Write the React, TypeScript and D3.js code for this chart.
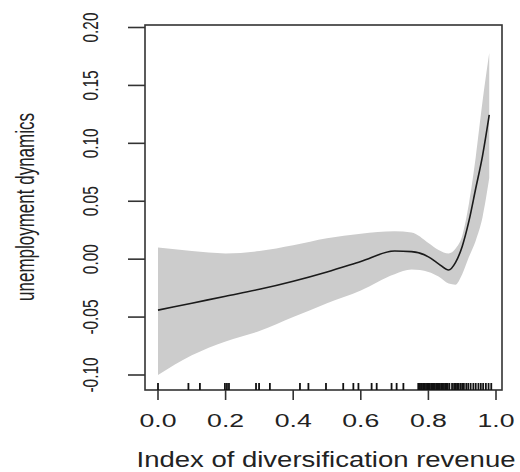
import React, { useRef, useEffect } from 'react';
import * as d3 from 'd3';

// smooth term
const gridX = [0, 0.1, 0.2, 0.3, 0.4, 0.5, 0.6, 0.7, 0.75, 0.8, 0.83, 0.86, 0.88, 0.9, 0.92, 0.94, 0.96, 0.98];
const fitY = [-0.044, -0.038, -0.032, -0.026, -0.019, -0.011, -0.002, 0.007, 0.0065, 0.002, -0.004, -0.0094, -0.003, 0.011, 0.033, 0.061, 0.089, 0.1245];
const upperY = [0.010, 0.007, 0.005, 0.007, 0.012, 0.018, 0.022, 0.024, 0.023, 0.014, 0.008, 0.005, 0.009, 0.020, 0.048, 0.088, 0.136, 0.178];
const lowerY = [-0.100, -0.083, -0.071, -0.062, -0.050, -0.038, -0.027, -0.013, -0.009, -0.011, -0.015, -0.021, -0.022, -0.013, 0.002, 0.016, 0.036, 0.070];

// rug of observed x values
const rugX = [
  0, 0.09, 0.124, 0.198, 0.204, 0.21, 0.29, 0.299, 0.331, 0.42, 0.445, 0.497,
  0.548, 0.578, 0.593, 0.632, 0.647, 0.691, 0.706, 0.726,
  0.770, 0.774, 0.778, 0.781, 0.785, 0.789, 0.793, 0.797, 0.800, 0.804, 0.808,
  0.812, 0.815, 0.819, 0.823, 0.827, 0.830, 0.834, 0.838, 0.842, 0.846, 0.850,
  0.853, 0.857, 0.862, 0.870, 0.876, 0.881, 0.885, 0.890, 0.896, 0.901, 0.905,
  0.912, 0.918, 0.925, 0.933, 0.940, 0.948, 0.955, 0.962, 0.970, 0.978, 0.986
];

const xTicks = [0, 0.2, 0.4, 0.6, 0.8, 1.0];
const xTickLabels = ['0.0', '0.2', '0.4', '0.6', '0.8', '1.0'];
const yTicks = [-0.1, -0.05, 0, 0.05, 0.1, 0.15, 0.2];
const yTickLabels = ['-0.10', '-0.05', '0.00', '0.05', '0.10', '0.15', '0.20'];

const xTitle = 'Index of diversification revenue';
const yTitle = 'unemployment dynamics';

const FONT = '"Liberation Sans", Arial, sans-serif';

export default function App() {
  const svgRef = useRef<SVGSVGElement>(null);

  useEffect(() => {
    const svg = d3.select(svgRef.current);
    svg.selectAll('*').remove();

    const box = { left: 145, right: 502, top: 25, bottom: 390 };

    const x = d3.scaleLinear().domain([0, 1]).range([158, 496]);
    const y = d3.scaleLinear().domain([-0.1, 0.2]).range([375, 27.5]);

    const rows = gridX.map((gx, i) => ({ x: gx, fit: fitY[i], lo: lowerY[i], hi: upperY[i] }));

    // confidence band
    svg.append('path')
      .datum(rows)
      .attr('fill', '#cccccc')
      .attr('d', d3.area<any>()
        .x(d => x(d.x))
        .y0(d => y(d.lo))
        .y1(d => y(d.hi))
        .curve(d3.curveMonotoneX));

    // fitted line
    svg.append('path')
      .datum(rows)
      .attr('fill', 'none')
      .attr('stroke', '#1a1a1a')
      .attr('stroke-width', 1.6)
      .attr('d', d3.line<any>()
        .x(d => x(d.x))
        .y(d => y(d.fit))
        .curve(d3.curveMonotoneX));

    // frame
    svg.append('rect')
      .attr('x', box.left)
      .attr('y', box.top)
      .attr('width', box.right - box.left)
      .attr('height', box.bottom - box.top)
      .attr('fill', 'none')
      .attr('stroke', '#333')
      .attr('stroke-width', 1.6);

    // rug
    svg.append('g')
      .selectAll('line')
      .data(rugX)
      .join('line')
      .attr('x1', d => x(d))
      .attr('x2', d => x(d))
      .attr('y1', 383)
      .attr('y2', box.bottom)
      .attr('stroke', '#111')
      .attr('stroke-width', 1.8);

    // x axis ticks + labels
    const gx = svg.append('g');
    gx.selectAll('line')
      .data(xTicks)
      .join('line')
      .attr('x1', d => x(d))
      .attr('x2', d => x(d))
      .attr('y1', box.bottom)
      .attr('y2', 400)
      .attr('stroke', '#333')
      .attr('stroke-width', 1.6);
    gx.selectAll('text')
      .data(xTicks)
      .join('text')
      .attr('transform', d => `translate(${x(d)},427) scale(1.48,1)`)
      .attr('text-anchor', 'middle')
      .attr('font-family', FONT)
      .attr('font-size', 18)
      .attr('fill', '#222')
      .text((d, i) => xTickLabels[i]);

    // y axis ticks + labels
    const gy = svg.append('g');
    gy.selectAll('line')
      .data(yTicks)
      .join('line')
      .attr('x1', 128)
      .attr('x2', box.left)
      .attr('y1', d => y(d))
      .attr('y2', d => y(d))
      .attr('stroke', '#333')
      .attr('stroke-width', 1.6);
    gy.selectAll('text')
      .data(yTicks)
      .join('text')
      .attr('transform', d => `translate(98,${y(d)}) scale(1.12,0.81) rotate(-90)`)
      .attr('text-anchor', 'middle')
      .attr('font-family', FONT)
      .attr('font-size', 19)
      .attr('fill', '#222')
      .text((d, i) => yTickLabels[i]);

    // titles
    svg.append('text')
      .attr('transform', 'translate(326,467) scale(1.25,1)')
      .attr('text-anchor', 'middle')
      .attr('font-family', FONT)
      .attr('font-size', 22)
      .attr('fill', '#222')
      .text(xTitle);

    svg.append('text')
      .attr('transform', 'translate(34,207) scale(1.3,0.85) rotate(-90)')
      .attr('text-anchor', 'middle')
      .attr('font-family', FONT)
      .attr('font-size', 20)
      .attr('fill', '#222')
      .text(yTitle);
  }, []);

  return (
    <svg
      ref={svgRef}
      width={520}
      height={472}
      style={{ position: 'absolute', left: 0, top: 0, background: '#fff' }}
    />
  );
}
